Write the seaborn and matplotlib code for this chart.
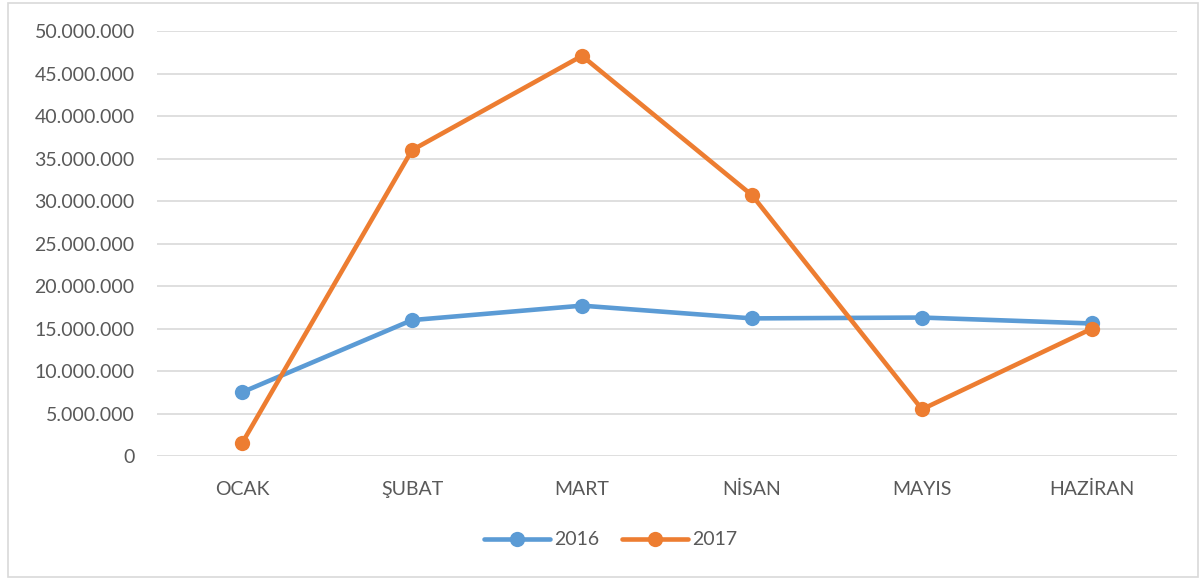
import pandas as pd
import matplotlib.pyplot as plt
import matplotlib.ticker as mticker
from matplotlib.patches import Rectangle
import seaborn as sns

months = ['OCAK', 'ŞUBAT', 'MART', 'NİSAN', 'MAYIS', 'HAZİRAN']
values_2016 = [7500000, 16000000, 17700000, 16200000, 16300000, 15600000]
values_2017 = [1500000, 36000000, 47100000, 30700000, 5500000, 15000000]
years = ['2016', '2017']
colors = ['#5B9BD5', '#ED7D31']

df = pd.DataFrame({
    'Ay': months * 2,
    'Değer': values_2016 + values_2017,
    'Yıl': [years[0]] * len(months) + [years[1]] * len(months),
})

sns.set_theme(style="white")
plt.rcParams['font.family'] = ['Lato', 'DejaVu Sans']

fig = plt.figure(figsize=(12.02, 5.78), dpi=100)
ax = fig.add_axes([0.1306, 0.211, 0.8486, 0.735])

sns.lineplot(
    data=df, x='Ay', y='Değer', hue='Yıl', palette=colors,
    marker='o', markersize=11, markeredgewidth=0, linewidth=3.3,
    sort=False, ax=ax
)

ax.set_xlim(-0.5, len(months) - 0.5)
ax.set_ylim(0, 50000000)
ax.yaxis.set_major_locator(mticker.MultipleLocator(5000000))
ax.yaxis.set_major_formatter(mticker.FuncFormatter(lambda v, p: f'{int(v):,}'.replace(',', '.')))
ax.grid(axis='y', color='#D9D9D9', linewidth=1.2)
ax.set_axisbelow(True)
for s in ax.spines.values():
    s.set_visible(False)
ax.tick_params(axis='both', length=0, labelsize=14, colors='#595959')
ax.tick_params(axis='y', pad=16)
ax.tick_params(axis='x', pad=18)
ax.set_xlabel('')
ax.set_ylabel('')

handles, labels = ax.get_legend_handles_labels()
ax.get_legend().remove()
fig.legend(handles, labels, loc='center', bbox_to_anchor=(0.508, 0.066), ncol=2,
           frameon=False, fontsize=14, labelcolor='#595959', handlelength=3.4,
           columnspacing=1.2, handletextpad=0.2)

fig.patches.append(Rectangle((0.007, 0.002), 0.99, 0.993, transform=fig.transFigure,
                             fill=False, edgecolor='#D9D9D9', linewidth=1.2))

fig.savefig('out.png', dpi=100)
